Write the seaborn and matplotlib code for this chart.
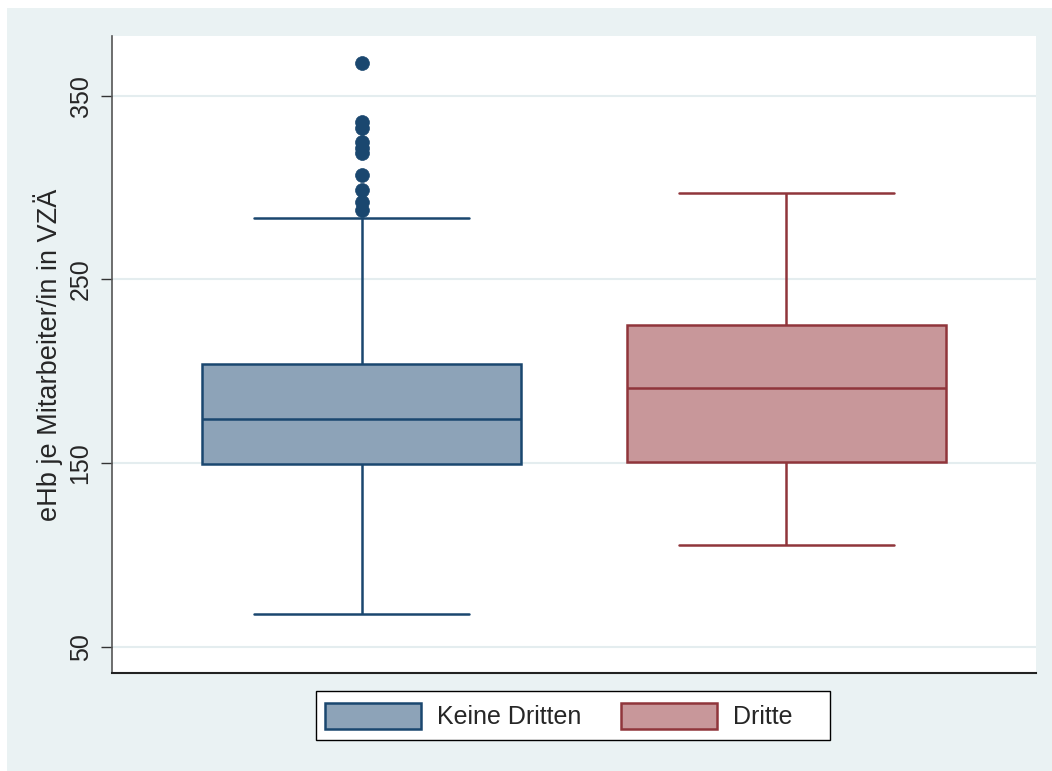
import matplotlib
matplotlib.use("Agg")
import matplotlib.pyplot as plt
from matplotlib.patches import Rectangle, Patch
import numpy as np
import pandas as pd
import seaborn as sns

# ---- data ----
categories = ["Keine Dritten", "Dritte"]
# box statistics: lower whisker, Q1, median, Q3, upper whisker
stats_keine = [67.8, 149.5, 174.3, 204.0, 283.5]
stats_dritte = [105.7, 150.5, 191.1, 225.2, 297.2]
outliers_keine = [367.6, 335.9, 332.3, 325.0, 321.4, 318.7, 306.9, 298.7, 292.3, 287.9]
outliers_dritte = []
yticks = [50, 150, 250, 350]
ylabel = "eHb je Mitarbeiter/in in VZÄ"

fill_colors = ["#8DA3B8", "#C8979A"]
edge_colors = ["#1A476F", "#90353B"]


def sample_from_stats(st, outs, b):
    """Observations whose quartiles/whiskers reproduce the read box statistics."""
    lo, q1, med, q3, hi = st
    a = b + len(outs)
    return [lo] + [q1] * a + [med] + [q3] * b + [hi] + list(outs)


vals_k = sample_from_stats(stats_keine, outliers_keine, 20)
vals_d = sample_from_stats(stats_dritte, outliers_dritte, 10)
df = pd.DataFrame({
    "group": [categories[0]] * len(vals_k) + [categories[1]] * len(vals_d),
    "value": vals_k + vals_d,
})

sns.set_style("white")
plt.rcParams["font.family"] = ["Liberation Sans", "DejaVu Sans"]

W, H = 1052, 771
fig = plt.figure(figsize=(W / 100, H / 100), dpi=100)
fig.patch.set_facecolor("white")
fig.patches.append(Rectangle((7 / W, 0), 1 - 7 / W, 1 - 8 / H, transform=fig.transFigure,
                             facecolor="#EAF2F3", edgecolor="none", zorder=-10))

ax = fig.add_axes([112 / W, 1 - 673.3 / H, (1036 - 112) / W, (673.3 - 36) / H])
ax.set_facecolor("white")

for cat, fc, ec in zip(categories, fill_colors, edge_colors):
    sub = df[df["group"] == cat]
    sns.boxplot(data=sub, x="group", y="value", order=categories, ax=ax,
                color=fc, linecolor=ec, saturation=1, width=0.75, linewidth=1.8,
                capwidths=0.505, whis=1.5,
                flierprops=dict(marker="o", markerfacecolor=ec, markeredgecolor=ec,
                                markersize=10, markeredgewidth=0.5))

ax.set_xlim(-0.588, 1.588)
ax.set_ylim(35.7, 382.5)
ax.set_yticks(yticks)
ax.set_yticklabels([str(t) for t in yticks], rotation=90, va="center", fontsize=18)
ax.tick_params(axis="y", length=8, width=1, color="#333333", pad=6, left=True)
ax.tick_params(axis="x", bottom=False, labelbottom=False)
ax.set_xlabel("")
ax.set_ylabel(ylabel, fontsize=19.5)
ax.yaxis.set_label_coords(-0.053, 0.5)

ax.grid(axis="y", color="#E4EDEF", linewidth=1.5)
ax.grid(axis="x", visible=False)
ax.set_axisbelow(True)
for s in ["top", "right"]:
    ax.spines[s].set_visible(False)
ax.spines["left"].set_color("#555555")
ax.spines["left"].set_linewidth(1.2)
ax.spines["bottom"].set_color("#222222")
ax.spines["bottom"].set_linewidth(1.5)

# legend frame (Stata-style, with extra right padding)
fig.patches.append(Rectangle((316 / W, 1 - 740 / H), (830 - 316) / W, (740 - 691) / H,
                             transform=fig.transFigure, facecolor="white",
                             edgecolor="black", linewidth=1.0, zorder=1))
handles = [Patch(facecolor=fc, edgecolor=ec, linewidth=1.8) for fc, ec in zip(fill_colors, edge_colors)]
leg = fig.legend(handles, categories, loc="center left", bbox_to_anchor=(325 / W, 1 - 716 / H),
                 ncol=2, fontsize=18, frameon=False, handlelength=3.84, handleheight=1.25,
                 handletextpad=0.65, columnspacing=1.58, borderpad=0, borderaxespad=0)
leg.set_zorder(2)

fig.savefig("out.png", dpi=100)
